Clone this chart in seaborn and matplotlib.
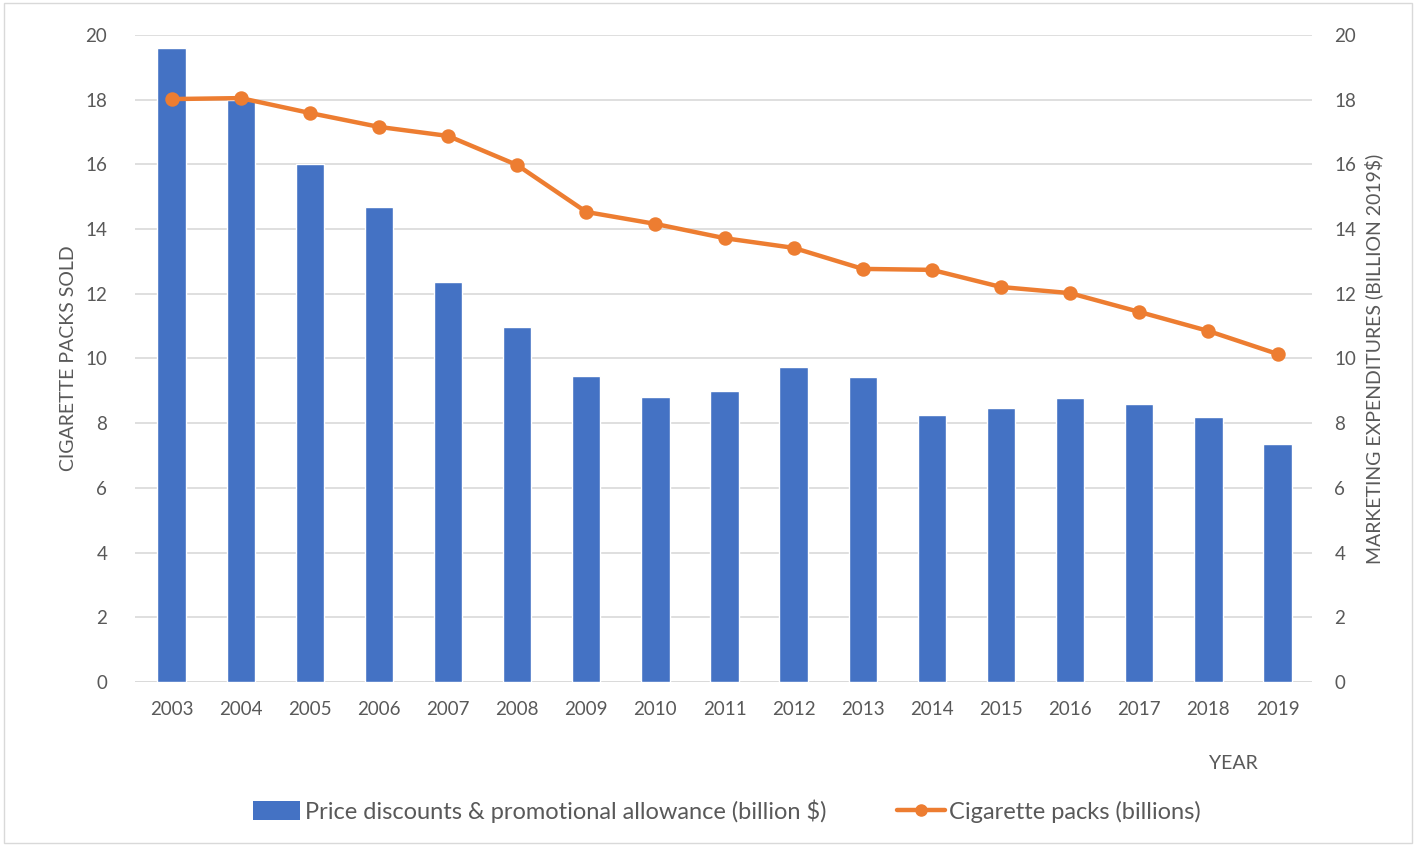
import numpy as np
import pandas as pd
import matplotlib
matplotlib.use("Agg")
import matplotlib.pyplot as plt
import seaborn as sns
from matplotlib.patches import Patch
from matplotlib.lines import Line2D

years = [str(y) for y in range(2003, 2020)]
discounts = [19.6, 18.0, 16.01, 14.68, 12.36, 10.97, 9.46, 8.81, 9.0, 9.74, 9.43, 8.25, 8.47, 8.78, 8.59, 8.19, 7.36]
packs = [18.02, 18.05, 17.59, 17.16, 16.88, 15.98, 14.53, 14.16, 13.72, 13.42, 12.77, 12.74, 12.21, 12.02, 11.44, 10.85, 10.14]
yticks = [0, 2, 4, 6, 8, 10, 12, 14, 16, 18, 20]

bar_label = "Price discounts & promotional allowance (billion $)"
line_label = "Cigarette packs (billions)"

sns.set_theme(style="white")
plt.rcParams['font.family'] = ['Lato', 'DejaVu Sans']

BLUE = "#4472C4"
ORANGE = "#ED7D31"
TXT = "#595959"
GRID = "#D9D9D9"

df = pd.DataFrame({"year": years, "discounts": discounts, "packs": packs})

fig = plt.figure(figsize=(14.16, 8.46), dpi=100)
ax = fig.add_axes([0.0953, 0.1939, 0.9266 - 0.0953, 0.9586 - 0.1939])

sns.barplot(data=df, x="year", y="discounts", color=BLUE, width=0.41,
            saturation=1, ax=ax, zorder=2)
sns.pointplot(data=df, x="year", y="packs", color=ORANGE, ax=ax,
              markers="o", markersize=8, linewidth=3.2, zorder=3)

ax.set_ylim(0, 20)
ax.set_xlim(-0.53, len(years) - 0.5)
ax.set_yticks(yticks)
ax.yaxis.grid(True, color=GRID, linewidth=1.2, zorder=0)
ax.set_axisbelow(True)
for s in ax.spines.values():
    s.set_visible(False)
ax.axhline(0, color=GRID, linewidth=1.2, zorder=1)
ax.tick_params(axis="both", length=0, labelsize=13.5, colors=TXT)
ax.tick_params(axis="x", pad=14)
ax.tick_params(axis="y", pad=20)
ax.set_xlabel("")
ax.set_ylabel("CIGARETTE PACKS SOLD", fontsize=14, color=TXT, labelpad=6)

ax2 = ax.twinx()
ax2.set_ylim(0, 20)
ax2.set_yticks(yticks)
for s in ax2.spines.values():
    s.set_visible(False)
ax2.tick_params(axis="y", length=0, labelsize=13.5, colors=TXT, pad=16)
ax2.set_ylabel("MARKETING EXPENDITURES (BILLION 2019$)", fontsize=14, color=TXT,
               labelpad=6)

fig.text(1233 / 1416, 1 - 763 / 846, "YEAR", ha="center", va="center",
         fontsize=14, color=TXT)

handles = [Patch(facecolor=BLUE, edgecolor="none"),
           Line2D([0], [0], color=ORANGE, linewidth=3.2, marker="o", markersize=8)]
leg = fig.legend(handles, [bar_label, line_label], loc="center",
                 bbox_to_anchor=(727 / 1416, 1 - 811 / 846), ncol=2, frameon=False,
                 fontsize=17, handlelength=2.0, handleheight=0.85,
                 handletextpad=0.2, columnspacing=3.0)
for t in leg.get_texts():
    t.set_color(TXT)

border = plt.Rectangle((0.003, 0.003), 0.994, 0.994, transform=fig.transFigure,
                       fill=False, edgecolor=GRID, linewidth=1)
fig.add_artist(border)

fig.savefig("out.png", dpi=100, facecolor="white")
